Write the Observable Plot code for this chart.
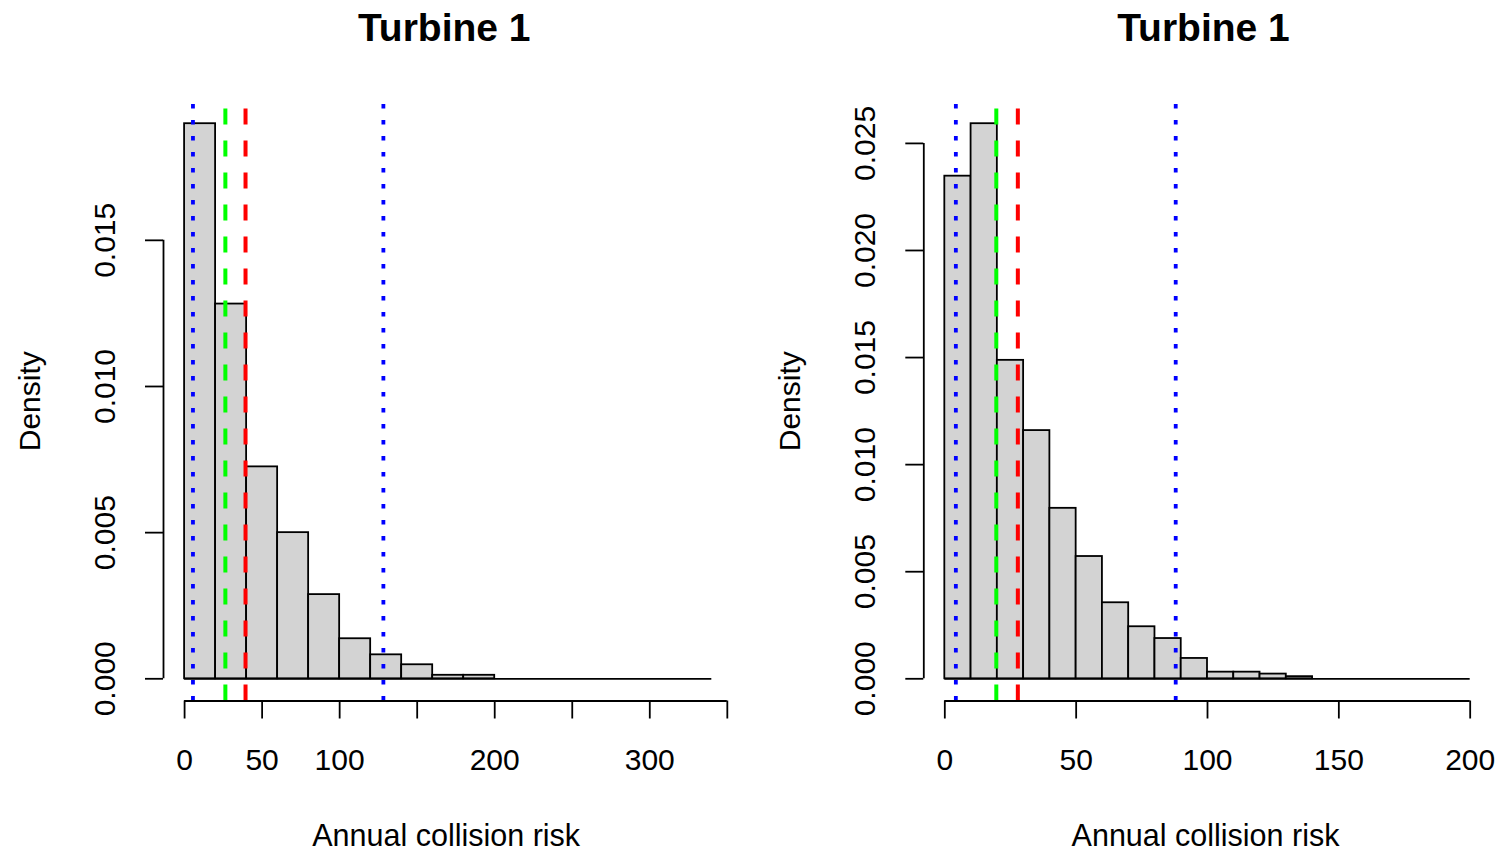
<!DOCTYPE html>
<html><head><meta charset="utf-8">
<script src="https://cdn.jsdelivr.net/npm/d3@7"></script>
<script src="https://cdn.jsdelivr.net/npm/@observablehq/plot@0.6"></script>
<style>
body{margin:0;background:#fff;}
#wrap{display:flex;width:1502px;height:854px;overflow:hidden;}
#wrap svg{font-family:"Liberation Sans",Arial,sans-serif;}
</style></head><body><div id="wrap"></div>
<script>
// ---- shared text ----
const xLabel = "Annual collision risk";
const yLabel = "Density";

// ---- left panel ----
const title1 = "Turbine 1";
const breaks1 = [0,20,40,60,80,100,120,140,160,180,200,220,240,260,280,300,320,340];
const density1 = [0.01899,0.01282,0.00725,0.00500,0.00288,0.00137,0.00082,0.00048,0.00012,0.00012,0,0,0,0,0,0,0];
const xTicks1 = [0,50,100,150,200,250,300,350];
const xTickLabels1 = [0,50,100,200,300];
const yTicks1 = [0,0.005,0.010,0.015];
const ci1 = [5.4,128.2];     // blue dotted
const median1 = [26.3];      // green dashed
const mean1 = [39.3];        // red dashed

// ---- right panel ----
const title2 = "Turbine 1";
const breaks2 = [0,10,20,30,40,50,60,70,80,90,100,110,120,130,140,150,160,170,180,190,200];
const density2 = [0.02347,0.02592,0.01487,0.01159,0.00796,0.00571,0.00355,0.00243,0.00188,0.00095,0.00031,0.00031,0.00022,0.00010,0,0,0,0,0,0];
const xTicks2 = [0,50,100,150,200];
const xTickLabels2 = [0,50,100,150,200];
const yTicks2 = [0,0.005,0.010,0.015,0.020,0.025];
const ci2 = [4.2,87.9];
const median2 = [19.6];
const mean2 = [27.8];

const fmt = d3.format(".3f");
const SW = 1.8;

function panel(o) {
  const bins = o.density.map((d, i) => ({x1: o.breaks[i], x2: o.breaks[i + 1], y: d}));
  const xmin = o.breaks[0], xmax = o.breaks[o.breaks.length - 1];
  const ymax = d3.max(o.density);
  const xr = (xmax - xmin) * 0.04, yr = ymax * 0.04;
  const xDom = [xmin - xr, xmax + xr];
  const yDom = [-yr, ymax + yr];
  const vline = (vals, color, dash, w) =>
    Plot.ruleX(vals, {x: d => d, y1: yDom[0], y2: yDom[1], stroke: color, strokeWidth: w, strokeDasharray: dash});
  return Plot.plot({
    width: 751, height: 854,
    marginLeft: o.ml, marginRight: o.mr, marginTop: 101, marginBottom: 153.5,
    x: {domain: xDom, axis: null},
    y: {domain: yDom, axis: null},
    style: {fontSize: "30px", color: "black", background: "white", fontFamily: "'Liberation Sans', Arial, sans-serif"},
    marks: [
      Plot.rectY(bins.filter(b => b.y > 0), {x1: "x1", x2: "x2", y: "y", fill: "#D3D3D3", stroke: "black", strokeWidth: SW}),
      Plot.ruleY([0], {x1: xmin, x2: xmax, stroke: "black", strokeWidth: SW}),
      vline(o.ci, "#0000FF", "4.5,11.5", 3.8),
      vline(o.median, "#00FF00", "16,16", 4),
      vline(o.mean, "#FF0000", "16,16", 4),
      // axes (R style: line spans first..last tick)
      Plot.ruleX([xDom[0]], {y1: o.yTicks[0], y2: o.yTicks[o.yTicks.length - 1], stroke: "black", strokeWidth: SW}),
      Plot.axisY({ticks: o.yTicks, tickSize: 18, fill: "none", label: null, strokeWidth: SW}),
      Plot.text(o.yTicks, {y: d => d, text: d => fmt(d), frameAnchor: "left", rotate: -90, dx: -58, textAnchor: "middle", lineAnchor: "middle"}),
      Plot.ruleY([yDom[0]], {x1: o.xTicks[0], x2: o.xTicks[o.xTicks.length - 1], stroke: "black", strokeWidth: SW}),
      Plot.axisX({ticks: o.xTicks, tickSize: 18, fill: "none", label: null, strokeWidth: SW}),
      Plot.text(o.xTickLabels, {x: d => d, text: d => String(d), frameAnchor: "bottom", dy: 59, textAnchor: "middle", lineAnchor: "middle"}),
      Plot.text([xLabel], {text: d => d, frameAnchor: "bottom", dy: 135, dx: -2, fontSize: 30.5, textAnchor: "middle", lineAnchor: "middle"}),
      Plot.text([yLabel], {text: d => d, frameAnchor: "left", rotate: -90, dx: -133, textAnchor: "middle", lineAnchor: "middle"}),
      Plot.text([o.title], {text: d => d, frameAnchor: "top", dy: -73, dx: -4, fontSize: 39, fontWeight: "bold", textAnchor: "middle", lineAnchor: "middle"})
    ]
  });
}

const wrap = document.getElementById("wrap");
wrap.append(panel({breaks: breaks1, density: density1, xTicks: xTicks1, xTickLabels: xTickLabels1, yTicks: yTicks1,
  ci: ci1, median: median1, mean: mean1, title: title1, ml: 163, mr: 18.6}));
wrap.append(panel({breaks: breaks2, density: density2, xTicks: xTicks2, xTickLabels: xTickLabels2, yTicks: yTicks2,
  ci: ci2, median: median2, mean: mean2, title: title2, ml: 172.3, mr: 11.3}));
</script>
</body></html>
